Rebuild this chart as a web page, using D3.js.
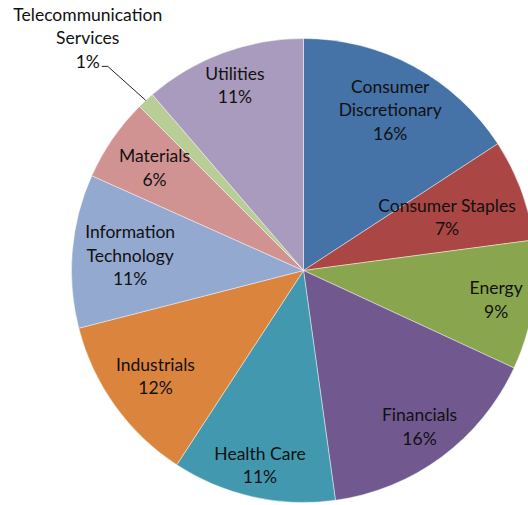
<!DOCTYPE html>
<html>
<head>
<meta charset="utf-8">
<script src="https://cdn.jsdelivr.net/npm/d3@7"></script>
<style>
  body { margin: 0; background: #fff; }
  svg text { font-family: Lato, "Open Sans", sans-serif; font-size: 17.5px; fill: #111; }
</style>
</head>
<body>
<div id="chart"></div>
<script>
var sectors = ["Consumer Discretionary", "Consumer Staples", "Energy", "Financials", "Health Care",
               "Industrials", "Information Technology", "Materials", "Telecommunication Services", "Utilities"];
var weights = [15.8, 7.1, 9.0, 15.9, 11.4, 11.8, 10.7, 5.8, 1.2, 11.3];
var labelLines = [["Consumer", "Discretionary"], ["Consumer Staples"], ["Energy"], ["Financials"], ["Health Care"],
                  ["Industrials"], ["Information", "Technology"], ["Materials"], ["Telecommunication", "Services"], ["Utilities"]];
var colours = ["#4572a7", "#aa4643", "#89a54e", "#71588f", "#4198af",
               "#db843d", "#93a9cf", "#d19392", "#b9cd96", "#a99bbd"];

// how far out each label sits, as a share of the radius (Excel "best fit")
var labelRadius = [0.785, 0.66, 0.84, 0.84, 0.86, 0.785, 0.75, 0.78, 0, 0.85];

var width = 528, height = 505;
var cx = 303.5, cy = 270.5, radius = 232;
var lineHeight = 23.5;

var data = sectors.map((s, i) => ({ name: s, value: weights[i], lines: labelLines[i] }));
var total = d3.sum(weights);

var pie = d3.pie().sort(null).value(d => d.value);
var arcs = pie(data);
var arc = d3.arc().innerRadius(0).outerRadius(radius);

var svg = d3.select("#chart")
    .append("svg")
    .attr("width", width)
    .attr("height", height);

var g = svg.append("g")
    .attr("transform", "translate(" + cx + "," + cy + ")");

g.selectAll("path")
    .data(arcs)
    .enter().append("path")
    .attr("d", arc)
    .style("fill", (d, i) => colours[i])
    .style("stroke", "rgba(255,255,255,0.55)")
    .style("stroke-width", 0.8);

function pct(d) {
    return Math.round(d.data.value / total * 100) + "%";
}

arcs.forEach((d, i) => {
    var lines = d.data.lines.concat([pct(d)]);
    var x, y;
    var mid = (d.startAngle + d.endAngle) / 2;
    if (labelRadius[i] > 0) {
        var r = radius * labelRadius[i];
        x = Math.sin(mid) * r;
        y = -Math.cos(mid) * r;
        var top = y - (lines.length - 1) * lineHeight / 2;
        var t = g.append("text").attr("text-anchor", "middle");
        lines.forEach((ln, k) => {
            t.append("tspan")
                .attr("x", x)
                .attr("y", top + k * lineHeight)
                .attr("dy", "0.35em")
                .text(ln);
        });
    } else {
        // small slice: label sits outside with a leader line
        var edge = [Math.sin(mid) * radius, -Math.cos(mid) * radius];
        var elbow = [edge[0] - 38, edge[1] - 34];
        var end = [elbow[0] - 6, elbow[1]];
        g.append("polyline")
            .attr("points", [edge, elbow, end].map(p => p.join(",")).join(" "))
            .style("fill", "none")
            .style("stroke", "#222")
            .style("stroke-width", 1);
        var lx = end[0] - 14, ly = end[1] - 5;
        var t = g.append("text").attr("text-anchor", "middle");
        lines.forEach((ln, k) => {
            t.append("tspan")
                .attr("x", lx)
                .attr("y", ly - (lines.length - 1 - k) * lineHeight)
                .attr("dy", "0.35em")
                .text(ln);
        });
    }
});
</script>
</body>
</html>
